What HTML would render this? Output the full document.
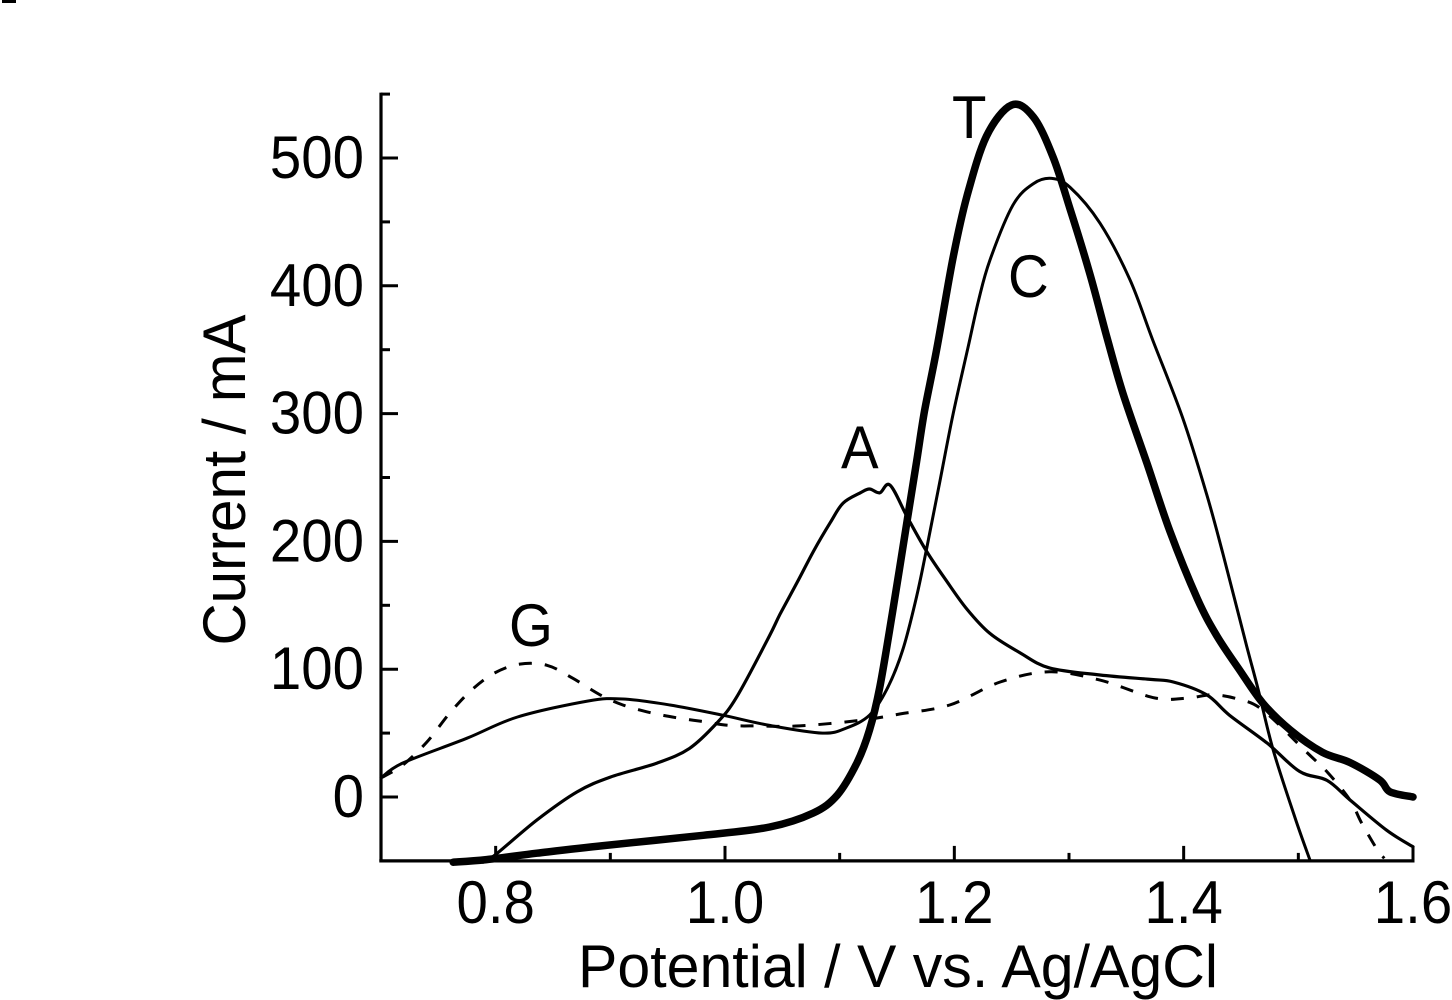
<!DOCTYPE html>
<html lang="en">
<head>
<meta charset="utf-8">
<title>Current vs potential voltammogram</title>
<style>
html,body{margin:0;padding:0;background:#fff;}
svg{display:block;}
text{font-family:"Liberation Sans",sans-serif;fill:#000;}
</style>
</head>
<body>
<svg id="chart" xmlns="http://www.w3.org/2000/svg" width="1452" height="1000" viewBox="0 0 1452 1000">
  <rect x="0" y="0" width="1452" height="1000" fill="#fff"/>
  <rect x="2" y="0" width="14" height="3" fill="#000"/>
  <g id="ticks"></g>
  <g id="tickLabels"></g>
  <g id="axes"></g>
  <g id="series"></g>
  <text x="898" y="987" font-size="60" text-anchor="middle" textLength="640" lengthAdjust="spacingAndGlyphs">Potential / V vs. Ag/AgCl</text>
  <text transform="translate(245,480) rotate(-90)" font-size="60" text-anchor="middle" textLength="331" lengthAdjust="spacingAndGlyphs">Current / mA</text>
  <text transform="translate(952,138) scale(.94,1)" font-size="60">T</text>
  <text transform="translate(1008,297) scale(.94,1)" font-size="60">C</text>
  <text transform="translate(841,468) scale(.94,1)" font-size="60">A</text>
  <text transform="translate(509,646) scale(.94,1)" font-size="60">G</text>
</svg>
<script>
const xMajorTicks = [0.8, 1.0, 1.2, 1.4, 1.6];
const xMinorTicks = [0.9, 1.1, 1.3, 1.5];
const xTickLabels = ["0.8", "1.0", "1.2", "1.4", "1.6"];
const yMajorTicks = [0, 100, 200, 300, 400, 500];
const yMinorTicks = [50, 150, 250, 350, 450, 550];
const yTickLabels = ["0", "100", "200", "300", "400", "500"];

const potentialT = [0.763,0.792,0.836,0.894,0.981,1.039,1.077,1.098,1.115,1.126,1.135,1.146,1.159,1.167,1.174,1.185,1.199,1.211,1.228,1.250,1.269,1.286,1.301,1.318,1.333,1.347,1.368,1.388,1.412,1.429,1.449,1.469,1.493,1.521,1.545,1.571,1.580,1.600];
const currentT = [-51,-49,-44,-38,-30,-23.5,-12.5,1.6,26.6,52.4,86,144,217,262,302,352,422.5,470,517,541.5,532,501,460,410,360,316,261,208,155,126,99,73.5,52.4,35,27,13.3,4,0];

const potentialC = [0.700,0.719,0.775,0.819,0.880,0.911,0.952,0.998,1.039,1.085,1.106,1.126,1.141,1.155,1.167,1.176,1.187,1.199,1.212,1.221,1.231,1.251,1.269,1.285,1.301,1.327,1.353,1.373,1.399,1.420,1.434,1.455,1.465,1.478,1.497,1.510];
const currentC = [15,26.6,46,62.6,75,76.7,72,64,56,50,54,64,84,115,156.5,195,245,300,352,388,420,463,480,484,477,449,405,357.6,297,237,191,118,84,37,-16,-49];

const potentialA = [0.789,0.800,0.836,0.871,0.900,0.941,0.969,0.993,1.010,1.037,1.048,1.063,1.077,1.092,1.103,1.118,1.126,1.135,1.144,1.159,1.176,1.194,1.211,1.231,1.257,1.283,1.327,1.371,1.391,1.420,1.440,1.473,1.501,1.525,1.545,1.577,1.600];
const currentA = [-51,-45,-18,4,15.6,26.6,38,58,78,123,143,168,192,215,230,238,241,238,244,219,192,168,147,128,113,101,95.5,92,90,80,64,42,20,13,-2.3,-26,-39];

const potentialG = [0.700,0.719,0.740,0.760,0.779,0.799,0.821,0.845,0.867,0.891,0.911,0.935,0.958,0.981,1.004,1.028,1.065,1.118,1.153,1.196,1.240,1.283,1.327,1.375,1.404,1.425,1.447,1.469,1.508,1.526,1.545,1.555,1.569,1.575];
const currentG = [14.9,25,43,65.7,83.7,97,104,103,93,80,72,66,62,59,56,55.6,55.6,60,65,72,90,98,91.5,77.5,77.5,80,76.7,68,34.4,18.8,-2.3,-20,-41.5,-48];

const SVG_NS = "http://www.w3.org/2000/svg";
function xScale(v) { return 381 + (v - 0.7) * (1032 / 0.9); }
function yScale(i) { return 797 - i * 1.278; }

function smoothPath(vs, is) {
  const p = vs.map((v, k) => [xScale(v), yScale(is[k])]);
  let d = "M" + p[0][0].toFixed(1) + " " + p[0][1].toFixed(1);
  for (let k = 0; k < p.length - 1; k++) {
    const a = p[Math.max(k - 1, 0)], b = p[k], c = p[k + 1], e = p[Math.min(k + 2, p.length - 1)];
    const c1x = b[0] + (c[0] - a[0]) / 6, c1y = b[1] + (c[1] - a[1]) / 6;
    const c2x = c[0] - (e[0] - b[0]) / 6, c2y = c[1] - (e[1] - b[1]) / 6;
    d += "C" + c1x.toFixed(1) + " " + c1y.toFixed(1) + " " + c2x.toFixed(1) + " " + c2y.toFixed(1) + " " + c[0].toFixed(1) + " " + c[1].toFixed(1);
  }
  return d;
}

function addLine(parent, x1, y1, x2, y2, w) {
  const l = document.createElementNS(SVG_NS, "line");
  l.setAttribute("x1", x1);
  l.setAttribute("y1", y1);
  l.setAttribute("x2", x2);
  l.setAttribute("y2", y2);
  l.setAttribute("stroke", "#000");
  l.setAttribute("stroke-width", w);
  parent.appendChild(l);
  return l;
}

function addLabel(parent, txt, x, y, anchor) {
  const t = document.createElementNS(SVG_NS, "text");
  t.setAttribute("transform", "translate(" + x + "," + y + ") scale(.94,1)");
  t.setAttribute("font-size", "60");
  t.setAttribute("text-anchor", anchor);
  t.textContent = txt;
  parent.appendChild(t);
  return t;
}

const ticksG = document.getElementById("ticks");
const labelsG = document.getElementById("tickLabels");
const axesG = document.getElementById("axes");
const seriesG = document.getElementById("series");

const axisBottom = yScale(-50);
const axisLeft = xScale(0.7);

xMajorTicks.forEach(function (v, k) {
  const t = addLine(ticksG, xScale(v), axisBottom, xScale(v), axisBottom - 15, 3);
  
  
  const lab = addLabel(labelsG, xTickLabels[k], xScale(v), 923, "middle");
  
  
});
xMinorTicks.forEach(function (v) {
  const t = addLine(ticksG, xScale(v), axisBottom, xScale(v), axisBottom - 8, 3);
  
  
});
yMajorTicks.forEach(function (v, k) {
  const t = addLine(ticksG, axisLeft, yScale(v), axisLeft + 17, yScale(v), 3);
  
  
  const lab = addLabel(labelsG, yTickLabels[k], 364, yScale(v) + 20, "end");
  
  
});
yMinorTicks.forEach(function (v) {
  const t = addLine(ticksG, axisLeft, yScale(v), axisLeft + 9, yScale(v), 3);
  
  
});

const xAxis = addLine(axesG, axisLeft - 1.7, axisBottom, xScale(1.6) + 1.5, axisBottom, 3.2);


const yAxis = addLine(axesG, axisLeft, axisBottom, axisLeft, yScale(550) - 1.5, 3.2);



function addSeries(vs, is, width, dash, cap) {
  const path = document.createElementNS(SVG_NS, "path");
  path.setAttribute("d", smoothPath(vs, is));
  path.setAttribute("fill", "none");
  path.setAttribute("stroke", "#000");
  path.setAttribute("stroke-width", width);
  path.setAttribute("stroke-linejoin", "round");
  path.setAttribute("stroke-linecap", cap);
  if (dash) path.setAttribute("stroke-dasharray", dash);
  seriesG.appendChild(path);
  return path;
}

const lineG = addSeries(potentialG, currentG, 3, "13 13", "butt");


const lineC = addSeries(potentialC, currentC, 3, null, "round");


const lineA = addSeries(potentialA, currentA, 3.2, null, "round");


const lineT = addSeries(potentialT, currentT, 7.5, null, "round");


</script>
</body>
</html>
